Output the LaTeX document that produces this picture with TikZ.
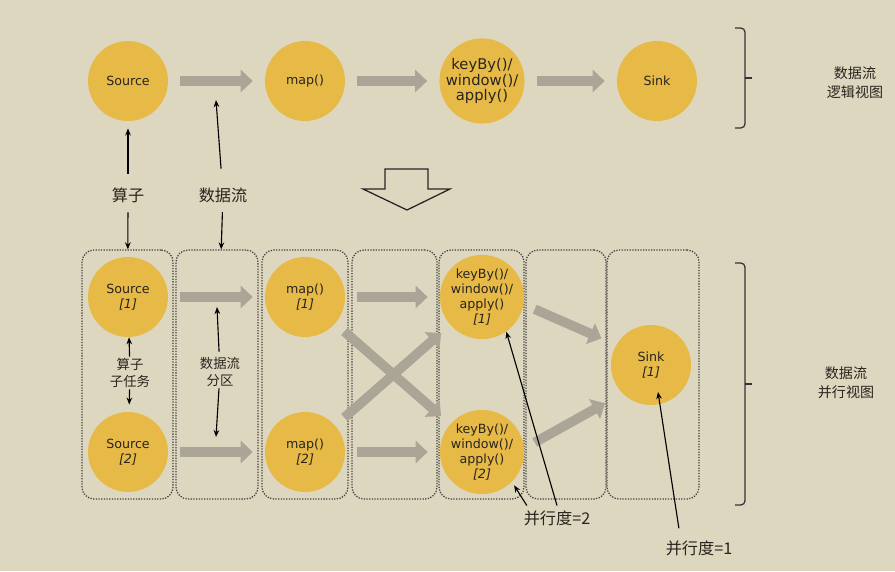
\documentclass[tikz,border=0pt]{standalone}
\usepackage{fontspec}
\setmainfont{DejaVu Sans}
\newfontfamily\cjk{Noto Sans CJK SC}
\usepackage{tikz}
\usetikzlibrary{arrows.meta,positioning}
\definecolor{bg}{RGB}{222,215,192}
\definecolor{opfill}{RGB}{231,186,72}
\definecolor{flowgray}{RGB}{170,165,150}
\definecolor{ink}{RGB}{40,36,30}
\tikzset{>={Stealth[length=5pt,width=4pt]},
op/.style={circle,fill=opfill,minimum size=2cm,inner sep=0pt,align=center,text=ink,
  font=\fontsize{9}{10.8}\selectfont},
flow/.style={draw=flowgray,line width=0.24cm,-{Triangle[length=0.3cm,width=0.55cm]},
  shorten >=0.3cm,shorten <=0.3cm},
colbox/.style={draw=black!75,densely dotted,line width=0.9pt,rounded corners=0.3cm,
  minimum height=6.225cm},
ptr/.style={->,draw=black,line width=0.8pt},
lbl/.style={font=\cjk\fontsize{11.5}{13}\selectfont,text=ink,align=center},
sublbl/.style={font=\cjk\fontsize{9.5}{12}\selectfont,text=ink,align=center,inner sep=1pt},
viewlbl/.style={font=\cjk\fontsize{10}{13.5}\selectfont,text=ink,align=center},
brk/.style={draw=black!80,line width=0.9pt,rounded corners=3pt},
}

\begin{document}
\begin{tikzpicture}
\fill[bg] (0,0) rectangle (22.375,14.275);
\useasboundingbox (0,0) rectangle (22.375,14.275);

% logical view
\node[op] (src) at (3.2,12.25) {Source};
\node[op] (map) at (7.625,12.25) {map()};
\node[op,font=\fontsize{10.5}{10.8}\selectfont] (kb) at (12.05,12.25) {keyBy()/\\window()/\\apply()};
\node[op] (snk) at (16.425,12.25) {Sink};

\path
(src) edge[flow] (map)
(map) edge[flow] (kb)
(kb) edge[flow] (snk)
;

\draw[brk] (18.375,13.575) -- (18.625,13.575) -- (18.625,11.075) -- (18.375,11.075);
\draw[brk] (18.625,12.325) -- (18.8,12.325);
\node[viewlbl] (logic) at (21.375,12.2) {数据流\\逻辑视图};

% arrow down
\draw[line width=0.9pt,draw=black!85] (9.625,10.05) -- (10.7,10.05) -- (10.7,9.55) -- (11.25,9.55)
  -- (10.175,9.025) -- (9.075,9.55) -- (9.625,9.55) -- cycle;

% parallel view
\node[colbox,minimum width=2.275cm] (c1) at (3.1875,4.9125) {};
\node[colbox,minimum width=2.05cm] (c2) at (5.425,4.9125) {};
\node[colbox,minimum width=2.15cm] (c3) at (7.625,4.9125) {};
\node[colbox,minimum width=2.125cm] (c4) at (9.8625,4.9125) {};
\node[colbox,minimum width=2.125cm] (c5) at (12.0375,4.9125) {};
\node[colbox,minimum width=2.0cm] (c6) at (14.15,4.9125) {};
\node[colbox,minimum width=2.3cm] (c7) at (16.325,4.9125) {};

\node[op] (s1) at (3.2,6.85) {Source\\\textit{[1]}};
\node[op] (s2) at (3.2,2.975) {Source\\\textit{[2]}};
\node[op] (m1) at (7.625,6.85) {map()\\\textit{[1]}};
\node[op] (m2) at (7.625,2.975) {map()\\\textit{[2]}};
\node[op] (k1) at (12.05,6.85) {keyBy()/\\window()/\\apply()\\\textit{[1]}};
\node[op] (k2) at (12.05,2.975) {keyBy()/\\window()/\\apply()\\\textit{[2]}};
\node[op] (sk) at (16.275,5.15) {Sink\\\textit{[1]}};

\path
(s1) edge[flow] (m1)
(s2) edge[flow] (m2)
(m1) edge[flow] (k1)
(m2) edge[flow] (k2)
(m1) edge[flow] (k2)
(m2) edge[flow] (k1)
(k1.-10) edge[flow,shorten >=0.4cm] (sk.150)
(k2.5) edge[flow,shorten >=0.5cm] (sk.225)
;

\draw[brk] (18.375,7.7) -- (18.625,7.7) -- (18.625,1.65) -- (18.375,1.65);
\draw[brk] (18.625,4.675) -- (18.8,4.675);
\node[viewlbl] (para) at (21.15,4.7) {数据流\\并行视图};

% callouts
\node[lbl] (oplbl) at (3.2,9.4) {算子};
\node[lbl] (flowlbl) at (5.575,9.4) {数据流};
\coordinate (flowtip) at (5.4,11.775);
\node[sublbl] (tasklbl) at (3.25,4.95) {算子\\子任务};
\node[sublbl] (partlbl) at (5.5,4.975) {数据流\\分区};
\coordinate (partup) at (5.425,6.6);
\coordinate (partdn) at (5.4,3.35);
\node[lbl] (par2) at (13.925,1.325) {并行度=2};
\node[lbl] (par1) at (17.475,0.575) {并行度=1};
\coordinate (sinkin) at (16.45,4.475);

\path
(oplbl) edge[ptr,shorten <=0.22cm,shorten >=0.18cm] (src)
(oplbl) edge[ptr,shorten <=0.12cm] (c1)
(flowlbl) edge[ptr,shorten <=0.35cm] (flowtip)
(flowlbl) edge[ptr,shorten <=0.12cm] (c2)
(tasklbl) edge[ptr] (s1)
(tasklbl) edge[ptr,shorten >=0.18cm] (s2)
(partlbl) edge[ptr,shorten <=0.1cm] (partup)
(partlbl) edge[ptr] (partdn)
(par2.north) edge[ptr] (k1.-55)
([xshift=0.2cm]par2.north west) edge[ptr,shorten >=0.1cm] (k2.-45)
([xshift=-0.475cm]par1.north) edge[ptr,shorten <=0.18cm] (sinkin)
;
\end{tikzpicture}
\end{document}
